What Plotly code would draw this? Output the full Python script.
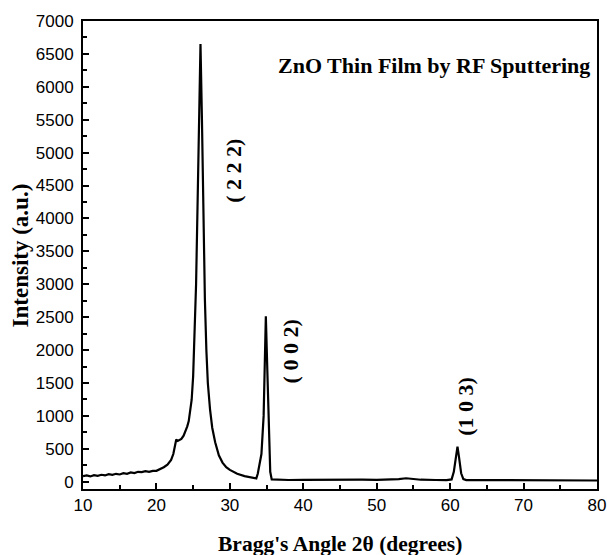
import plotly.graph_objects as go

# 2-theta (degrees) and intensity (a.u.)
two_theta = [
    10.0, 10.5, 11.0, 11.5, 12.0, 12.5, 13.0, 13.5, 14.0, 14.5, 15.0, 15.5,
    16.0, 16.5, 17.0, 17.5, 18.0, 18.5, 19.0, 19.5, 20.0, 20.5, 21.0, 21.5,
    22.0, 22.3, 22.5, 22.7, 22.9, 23.1, 23.4, 23.7, 24.0, 24.2, 24.4, 24.6,
    24.8, 25.0, 25.2, 25.4, 25.6, 25.8, 26.0, 26.2, 26.4, 26.6, 26.8, 27.0,
    27.3, 27.6, 28.0, 28.5, 29.0, 29.5, 30.0, 31.0, 32.0, 33.0, 33.6, 33.8,
    34.0, 34.3, 34.6, 34.8, 34.9, 35.1, 35.3, 35.5, 35.7, 36.5, 38.0, 40.0,
    42.0, 44.0, 46.0, 47.0, 48.0, 50.0, 52.0, 53.0, 54.0, 55.0, 56.0, 58.0,
    59.5, 60.2, 60.5, 60.8, 61.0, 61.2, 61.5, 61.8, 62.2, 64.0, 66.0, 68.0,
    70.0, 72.0, 74.0, 76.0, 78.0, 80.0,
]
intensity = [
    85, 95, 80, 100, 90, 105, 95, 115, 105, 120, 110, 130,
    120, 140, 130, 150, 145, 160, 150, 165, 165, 190, 220, 260,
    330, 420, 520, 640, 620, 630, 650, 700, 780, 840, 920, 1050,
    1245, 1600, 2300, 3000, 4200, 5600, 6650, 5500, 3900, 2770, 2000, 1500,
    1100, 820, 600, 400, 290, 220, 180, 120, 85, 62, 50, 120,
    230, 420, 1000, 1900, 2515, 1700, 700, 150, 35, 28, 26, 28,
    30, 28, 35, 40, 30, 28, 30, 40, 52, 40, 30, 26,
    24, 35, 150, 380, 533, 380, 128, 40, 25, 24, 22, 22,
    20, 22, 20, 20, 18, 18,
]

peak_labels = ["( 2 2 2)", "( 0 0 2)", "(1 0 3)"]
peak_label_x = [30.4, 38.2, 62.0]
peak_label_y = [4720, 1980, 1150]

x_ticks = [10, 20, 30, 40, 50, 60, 70, 80]
y_ticks = list(range(0, 7001, 500))

fig = go.Figure()
fig.add_trace(go.Scatter(
    x=two_theta, y=intensity, mode="lines",
    line=dict(color="black", width=2.2), showlegend=False,
))

serif = "Liberation Serif, Times New Roman, serif"
for t, px, py in zip(peak_labels, peak_label_x, peak_label_y):
    fig.add_annotation(x=px, y=py, text="<b>" + t + "</b>", textangle=-90,
                       showarrow=False, font=dict(family=serif, size=22, color="black"))

fig.add_annotation(xref="paper", yref="paper", x=0.99, y=0.904, xanchor="right",
                   yanchor="middle",
                   text="<b>ZnO Thin Film by RF Sputtering</b>", showarrow=False,
                   font=dict(family=serif, size=22, color="black"))

# axis titles
fig.add_annotation(xref="paper", yref="paper", x=0.5, y=-0.117, xanchor="center",
                   yanchor="middle", text="<b>Bragg's Angle 2θ (degrees)</b>",
                   showarrow=False, font=dict(family=serif, size=21.5, color="black"))
fig.add_annotation(xref="paper", yref="paper", x=-0.1226, y=0.499, xanchor="center",
                   yanchor="middle", text="<b>Intensity (a.u.)</b>", textangle=-90,
                   showarrow=False, font=dict(family=serif, size=23, color="black"))

axis_common = dict(
    showline=True, linecolor="black", linewidth=2, mirror=True,
    ticks="inside", tickcolor="black", tickwidth=2, ticklen=6,
    showgrid=False, zeroline=False, automargin=False,
    tickfont=dict(family="Liberation Sans, Arial, sans-serif", size=17, color="black"),
)

fig.update_xaxes(
    range=[10, 80], tickvals=x_ticks,
    minor=dict(ticks="inside", dtick=5, ticklen=4, tickwidth=2, tickcolor="black"),
    **axis_common,
)
fig.update_yaxes(
    range=[-111, 7000], tickvals=y_ticks,
    minor=dict(ticks="inside", dtick=250, ticklen=4, tickwidth=2, tickcolor="black"),
    ticklabelstandoff=4,
    **axis_common,
)

fig.update_layout(
    width=607, height=555,
    margin=dict(l=83, r=10, t=21, b=66),
    paper_bgcolor="white", plot_bgcolor="white",
)

fig.write_html("out.html")
